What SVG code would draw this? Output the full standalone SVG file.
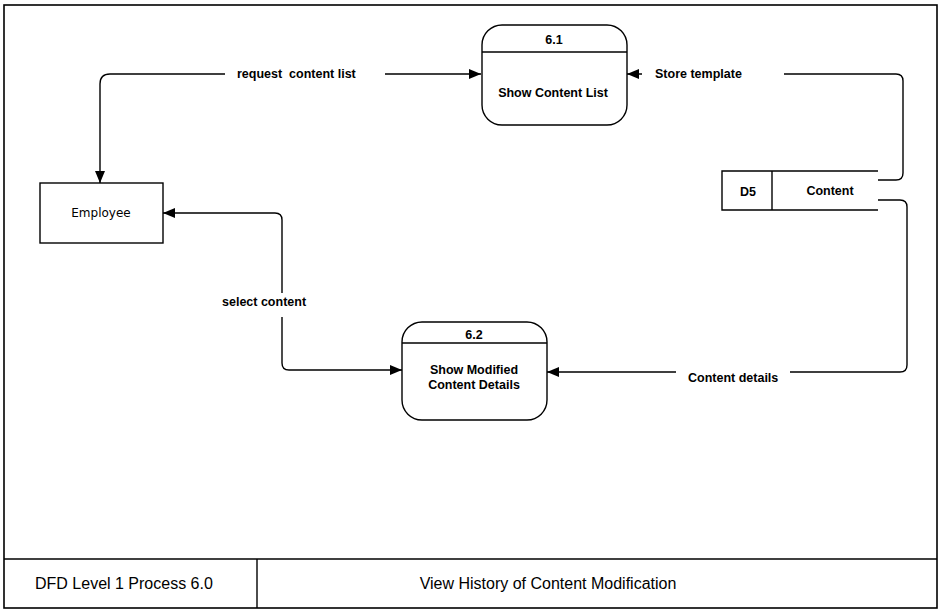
<svg xmlns="http://www.w3.org/2000/svg" width="939" height="613" viewBox="0 0 939 613">
  <style>
    .frame { fill: none; stroke: #000; stroke-width: 1.6; }
    .box { fill: #fff; stroke: #000; stroke-width: 1.4; }
    .line { fill: none; stroke: #000; stroke-width: 1.4; }
    .flow { fill: none; stroke: #000; stroke-width: 1.4; stroke-linejoin: round; }
    .lbl { font-family: "Liberation Sans", Arial, sans-serif; font-size: 12.5px; font-weight: bold; fill: #000; }
    .ent { font-family: "DejaVu Sans", "Liberation Sans", sans-serif; font-size: 12px; fill: #000; }
    .foot { font-family: "Liberation Sans", Arial, sans-serif; font-size: 16px; fill: #000; }
    .mask { fill: #fff; stroke: none; }
  </style>
  <defs>
    <marker id="arrow" viewBox="0 0 12 10" refX="12" refY="5" markerWidth="12" markerHeight="10" markerUnits="userSpaceOnUse" orient="auto-start-reverse">
      <path d="M0,0 L12,5 L0,10 Z" fill="#000"/>
    </marker>
  </defs>

  <rect width="939" height="613" fill="#fff"/>

  <!-- outer frame and title block -->
  <g id="frame">
    <rect class="frame" x="4" y="5" width="933" height="603"/>
    <line class="frame" x1="4" y1="559" x2="937" y2="559"/>
    <line class="line" x1="257" y1="559" x2="257" y2="608"/>
    <text class="foot" x="35" y="589">DFD Level 1 Process 6.0</text>
    <text class="foot" x="548" y="589" text-anchor="middle">View History of Content Modification</text>
  </g>

  <!-- data flows -->
  <g id="connectors">
    <path class="flow" d="M481,74 L110,74 Q100,74 100,84 L100,183" marker-start="url(#arrow)" marker-end="url(#arrow)"/>
    <path class="flow" d="M878,180 L896,180 Q903,180 903,173 L903,81 Q903,74 896,74 L627,74" marker-end="url(#arrow)"/>
    <path class="flow" d="M878,200 L900,200 Q907,200 907,207 L907,365 Q907,372 900,372 L547,372" marker-end="url(#arrow)"/>
    <path class="flow" d="M163,213 L275,213 Q282,213 282,220 L282,363 Q282,370 289,370 L402,370" marker-start="url(#arrow)" marker-end="url(#arrow)"/>

    <rect class="mask" x="225" y="65" width="160" height="16"/>
    <text class="lbl" x="237" y="78" xml:space="preserve">request  content list</text>
    <rect class="mask" x="642" y="65" width="142" height="16"/>
    <text class="lbl" x="655" y="78">Store template</text>
    <rect class="mask" x="676" y="366" width="114" height="16"/>
    <text class="lbl" x="688" y="382">Content details</text>
    <rect class="mask" x="218" y="293" width="106" height="24"/>
    <text class="lbl" x="222" y="306">select content</text>
  </g>

  <!-- external entity -->
  <g id="employee">
    <rect class="box" x="40" y="183" width="123" height="60"/>
    <text class="ent" x="101" y="217" text-anchor="middle">Employee</text>
  </g>

  <!-- process 6.1 -->
  <g id="process-6-1">
    <rect class="box" x="482" y="25" width="145" height="100" rx="20" ry="20"/>
    <line class="line" x1="482" y1="52" x2="627" y2="52"/>
    <text class="lbl" x="554" y="44" text-anchor="middle">6.1</text>
    <text class="lbl" x="553" y="97" text-anchor="middle">Show Content List</text>
  </g>

  <!-- process 6.2 -->
  <g id="process-6-2">
    <rect class="box" x="402" y="322" width="145" height="98" rx="20" ry="20"/>
    <line class="line" x1="402" y1="343" x2="547" y2="343"/>
    <text class="lbl" x="474" y="339" text-anchor="middle">6.2</text>
    <text class="lbl" x="474" y="374" text-anchor="middle">Show Modified</text>
    <text class="lbl" x="474" y="389" text-anchor="middle">Content Details</text>
  </g>

  <!-- data store D5 -->
  <g id="store-d5">
    <path class="line" d="M878,171 L722,171 L722,210 L878,210"/>
    <line class="line" x1="772" y1="171" x2="772" y2="210"/>
    <text class="lbl" x="748" y="196" text-anchor="middle">D5</text>
    <text class="lbl" x="830" y="195" text-anchor="middle">Content</text>
  </g>
</svg>
